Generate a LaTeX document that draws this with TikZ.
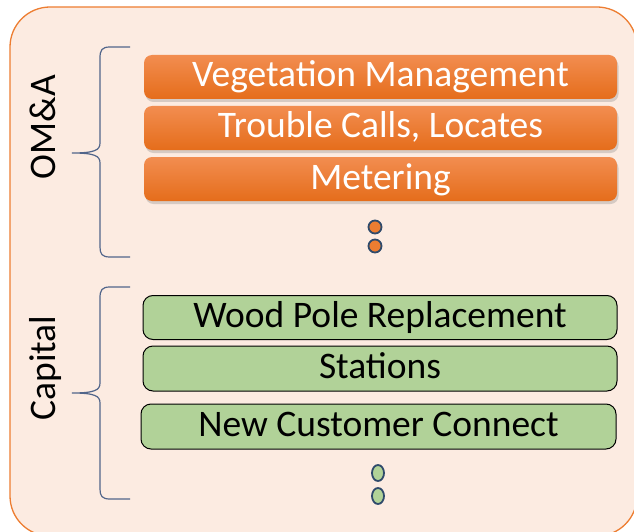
\documentclass[tikz,border=0pt]{standalone}
\usepackage{fontspec}
\setmainfont{Carlito}
\usetikzlibrary{shadows,shapes.geometric}
\definecolor{panelfill}{HTML}{FCEBE1}
\definecolor{panelline}{HTML}{ED7D31}
\definecolor{orangetop}{HTML}{F28D50}
\definecolor{orangebot}{HTML}{E56D1B}
\definecolor{greenfill}{HTML}{B1D298}
\definecolor{bracecol}{HTML}{51658A}
\definecolor{dotline}{HTML}{2F4A6B}
\begin{document}
\begin{tikzpicture}[x=1pt,y=-1pt]

      \tikzset{omabox/.style={rectangle, rounded corners=8pt, minimum width=473pt, minimum height=44pt,
                 top color=orangetop, bottom color=orangebot, draw=none, text=white, inner sep=0pt,
                 drop shadow={shadow xshift=1.5pt, shadow yshift=-3pt, opacity=.3},
                 font=\fontsize{37.5}{40}\selectfont, text height=30pt, text depth=10pt},
               capbox/.style={rectangle, rounded corners=10pt, minimum width=474pt, minimum height=44pt,
                 fill=greenfill, draw=black, line width=1pt, inner sep=0pt,
                 font=\fontsize{37.5}{40}\selectfont, text height=30pt, text depth=10pt},
               sidelabel/.style={rotate=90, anchor=base, font=\fontsize{37.5}{40}\selectfont},
               bracket/.style={draw=bracecol, line width=1.2pt},
               dotO/.style={draw=dotline, line width=1.8pt, fill=panelline, ellipse, inner sep=0pt, minimum width=13pt, minimum height=13pt},
               dotG/.style={draw=dotline, line width=1.8pt, fill=greenfill, ellipse, inner sep=0pt, minimum width=12pt, minimum height=16pt}}

      \useasboundingbox (0,0) rectangle (634,532);
      \clip (0,0) rectangle (634,532);
%% Panel
      \draw[fill=panelfill, draw=panelline, line width=1.3pt, rounded corners=40pt] (10,7) rectangle (637,536);

%% Side labels
      \node[sidelabel] (oma) at (55,127) {OM\&A};
      \node[sidelabel] (capital) at (55,368) {Capital};

%Brackets
      \draw[bracket] (130,47) -- (110,47) .. controls (102,47) and (100,50) .. (100,58) -- (100,143)
            .. controls (100,150) and (95,153) .. (72,153) .. controls (95,153) and (100,156) .. (100,163)
            -- (100,247) .. controls (100,254) and (102,257) .. (110,257) -- (130,257);
      \draw[bracket] (130,287) -- (110,287) .. controls (102,287) and (100,290) .. (100,298) -- (100,383)
            .. controls (100,390) and (95,393) .. (72,393) .. controls (95,393) and (100,396) .. (100,403)
            -- (100,489) .. controls (100,496) and (102,499) .. (110,499) -- (130,499);

%% OM&A items
      \node[omabox] (veg) at (380.5,77) {Vegetation Management};
      \node[omabox] (trouble) at (380.5,128) {Trouble Calls, Locates};
      \node[omabox] (meter) at (380.5,179) {Metering};
      \node[dotO] (od1) at (375,227) {};
      \node[dotO] (od2) at (375,246) {};

%% Capital items
      \node[capbox] (pole) at (380,317.5) {Wood Pole Replacement};
      \node[capbox, minimum height=45pt] (stations) at (380,368.5) {Stations};
      \node[capbox, minimum width=475pt, minimum height=45pt] (connect) at (378.5,426.5) {New Customer Connect};
      \node[dotG] (gd1) at (378,473) {};
      \node[dotG] (gd2) at (378,496) {};

\end{tikzpicture}
\end{document}
